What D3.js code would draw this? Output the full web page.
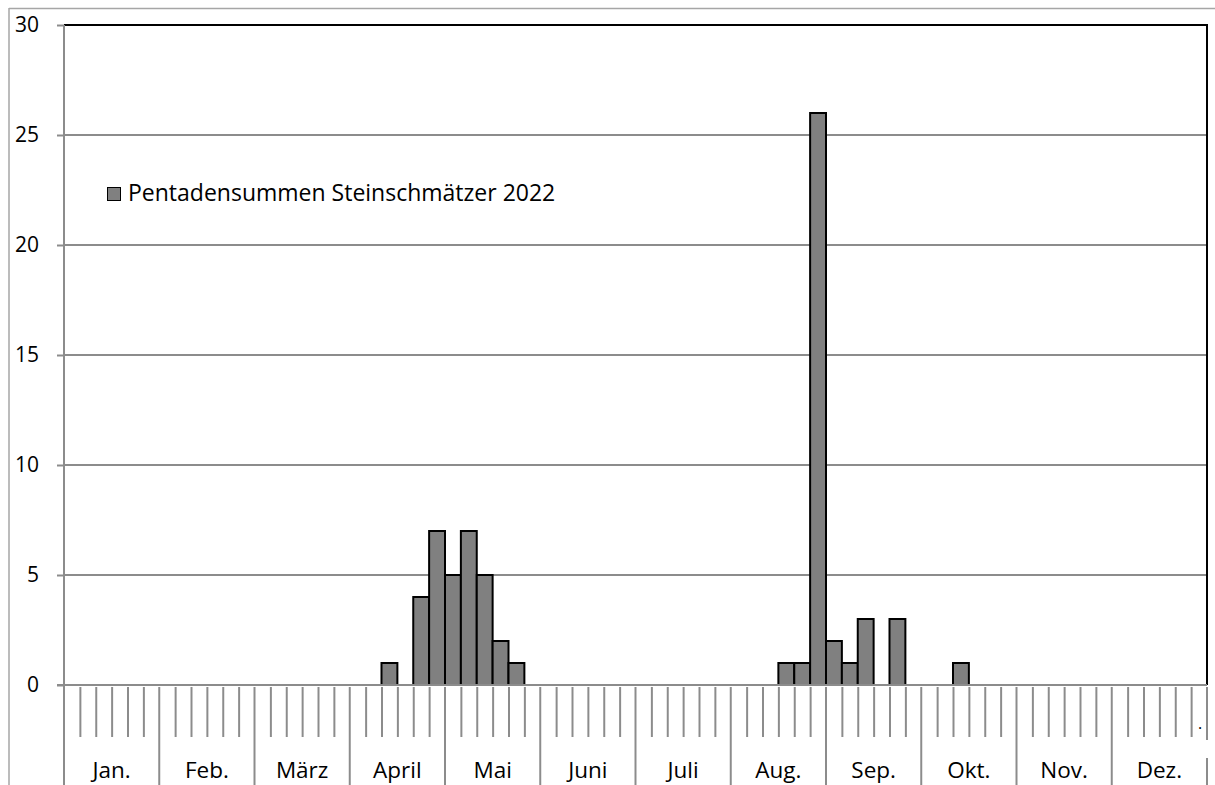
<!DOCTYPE html>
<html>
<head>
<meta charset="utf-8">
<script src="https://cdn.jsdelivr.net/npm/d3@7"></script>
<style>
  body { margin: 0; background: #fff; }
  svg { display: block; }
</style>
</head>
<body>
<div id="chart"></div>
<script>
// Pentad sums (6 pentads per month, 72 per year)
const months = ["Jan.", "Feb.", "März", "April", "Mai", "Juni", "Juli", "Aug.", "Sep.", "Okt.", "Nov.", "Dez."];
const pentadValues = [
    0, 0, 0, 0, 0, 0,   // Jan
    0, 0, 0, 0, 0, 0,   // Feb
    0, 0, 0, 0, 0, 0,   // März
    0, 0, 1, 0, 4, 7,   // April
    5, 7, 5, 2, 1, 0,   // Mai
    0, 0, 0, 0, 0, 0,   // Juni
    0, 0, 0, 0, 0, 0,   // Juli
    0, 0, 0, 1, 1, 26,  // Aug
    2, 1, 3, 0, 3, 0,   // Sep
    0, 0, 1, 0, 0, 0,   // Okt
    0, 0, 0, 0, 0, 0,   // Nov
    0, 0, 0, 0, 0, 0    // Dez
];
const yTicks = [0, 5, 10, 15, 20, 25, 30];
const seriesName = "Pentadensummen Steinschmätzer 2022";

const width = 1215, height = 785;
const margin = { top: 25, right: 8, bottom: 100, left: 64 };
const font = "'Open Sans', sans-serif";
const gridColor = "#8c8c8c";

const svg = d3.select("#chart").append("svg")
    .attr("width", width)
    .attr("height", height);

const x = d3.scaleLinear()
    .domain([0, pentadValues.length])
    .range([margin.left, width - margin.right]);

const y = d3.scaleLinear()
    .domain([0, 30])
    .range([height - margin.bottom, margin.top]);

// Outer frame (top and left only visible)
svg.append("line")
    .attr("x1", 9).attr("x2", width).attr("y1", 8.5).attr("y2", 8.5)
    .attr("stroke", "#a6a6a6").attr("stroke-width", 1.5);
svg.append("line")
    .attr("x1", 9).attr("x2", 9).attr("y1", 8).attr("y2", height)
    .attr("stroke", "#a6a6a6").attr("stroke-width", 1.5);

// Horizontal gridlines + y labels
const yAxis = svg.append("g")
    .attr("transform", `translate(${margin.left},0)`)
    .call(d3.axisLeft(y).tickValues(yTicks).tickSize(7).tickPadding(18));
yAxis.select(".domain").remove();
yAxis.selectAll(".tick line").attr("stroke", gridColor).attr("stroke-width", 2);
yAxis.selectAll(".tick text")
    .attr("fill", "#000")
    .style("font-family", font)
    .style("font-size", "21px");

svg.append("g")
    .selectAll("line")
    .data(yTicks.filter(d => d > 0 && d < 30))
    .join("line")
    .attr("x1", margin.left).attr("x2", x.range()[1])
    .attr("y1", d => y(d)).attr("y2", d => y(d))
    .attr("stroke", gridColor).attr("stroke-width", 2);

// Bars
svg.append("g")
    .selectAll("rect")
    .data(pentadValues.map((v, i) => ({ i, v })).filter(d => d.v > 0))
    .join("rect")
    .attr("x", d => x(d.i))
    .attr("y", d => y(d.v))
    .attr("width", d => x(d.i + 1) - x(d.i))
    .attr("height", d => y(0) - y(d.v))
    .attr("fill", "#808080")
    .attr("stroke", "#000")
    .attr("stroke-width", 2);

// Plot border top and right (black)
svg.append("path")
    .attr("d", `M${margin.left},${y(30)}H${x.range()[1]}V${y(0)}`)
    .attr("fill", "none")
    .attr("stroke", "#000")
    .attr("stroke-width", 2);

// Left axis line, running down through the category area
svg.append("line")
    .attr("x1", margin.left).attr("x2", margin.left)
    .attr("y1", y(30)).attr("y2", height)
    .attr("stroke", gridColor).attr("stroke-width", 2);

// x baseline
svg.append("line")
    .attr("x1", margin.left - 7).attr("x2", x.range()[1])
    .attr("y1", y(0)).attr("y2", y(0))
    .attr("stroke", gridColor).attr("stroke-width", 2);

// Pentad ticks
const pentadTicks = d3.range(1, pentadValues.length).filter(i => i % 6 !== 0);
svg.append("g")
    .attr("transform", `translate(0,${y(0) + 2})`)
    .call(d3.axisBottom(x).tickValues(pentadTicks).tickSize(50).tickFormat(""))
    .call(g => g.select(".domain").remove())
    .call(g => g.selectAll(".tick line").attr("stroke", gridColor).attr("stroke-width", 2));

// Month boundaries
svg.append("g")
    .selectAll("line")
    .data(d3.range(6, pentadValues.length, 6))
    .join("line")
    .attr("x1", d => x(d)).attr("x2", d => x(d))
    .attr("y1", y(0) + 2).attr("y2", height)
    .attr("stroke", gridColor).attr("stroke-width", 2);

// last boundary (broken around the dot)
const xEnd = x(pentadValues.length);
svg.append("line")
    .attr("x1", xEnd).attr("x2", xEnd).attr("y1", y(0) + 2).attr("y2", 740)
    .attr("stroke", gridColor).attr("stroke-width", 2);
svg.append("line")
    .attr("x1", xEnd).attr("x2", xEnd).attr("y1", 758).attr("y2", height)
    .attr("stroke", gridColor).attr("stroke-width", 2);
svg.append("text")
    .attr("x", xEnd - 7).attr("y", 729)
    .attr("text-anchor", "middle")
    .style("font-family", font)
    .style("font-size", "16px")
    .text(".");

// Month labels
svg.append("g")
    .selectAll("text")
    .data(months)
    .join("text")
    .attr("x", (d, i) => x(i * 6 + 3))
    .attr("y", 778)
    .attr("text-anchor", "middle")
    .style("font-family", font)
    .style("font-size", "22.5px")
    .text(d => d);

// Legend
svg.append("rect")
    .attr("x", 107.5).attr("y", 187.5)
    .attr("width", 13).attr("height", 13)
    .attr("fill", "#808080")
    .attr("stroke", "#000")
    .attr("stroke-width", 1);
svg.append("text")
    .attr("x", 128)
    .attr("y", 201)
    .style("font-family", font)
    .style("font-size", "23px")
    .text(seriesName);
</script>
</body>
</html>
